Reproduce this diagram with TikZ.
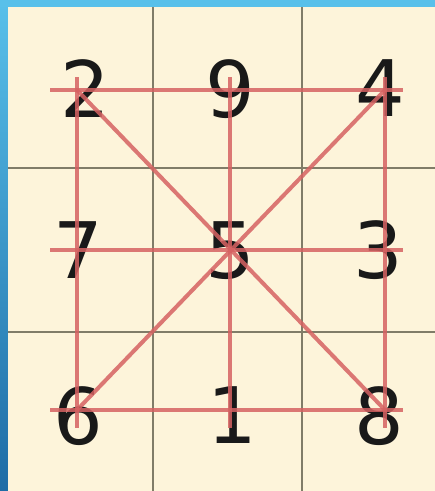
\documentclass[tikz,border=0pt]{standalone}
\usepackage{fontspec}
\newfontfamily\digitfont{DejaVu Sans}
\definecolor{paper}{RGB}{253,244,218}
\definecolor{gridgray}{RGB}{128,124,104}
\definecolor{linered}{RGB}{214,98,98}
\definecolor{skyblue}{RGB}{88,192,234}
\definecolor{deepblue}{RGB}{30,108,166}
\tikzset{
  digit/.style={inner sep=0pt,font=\digitfont\fontsize{78}{78}\selectfont,text=black!90},
  gridline/.style={gridgray,line width=1.6pt},
  redline/.style={linered,line width=4pt,opacity=0.85}
}
\begin{document}
\begin{tikzpicture}[x=1pt,y=-1pt,line cap=butt]
\def\W{435}\def\H{491}
\useasboundingbox (0,0) rectangle (\W,\H);
% frame and paper
\shade[top color=skyblue,bottom color=deepblue] (0,0) rectangle (8,\H);
\fill[skyblue] (0,0) rectangle (\W,7);
\fill[paper] (8,7) rectangle (\W,\H);
\foreach \x in {153,302} \draw[gridline] (\x,7)--(\x,\H);
\foreach \y in {168,332} \draw[gridline] (8,\y)--(\W,\y);
% the square
\foreach \d/\x/\y in {2/85/89,9/230/89,4/380/88,7/78/250,5/230/251,3/378/250,6/78/416,1/232/415,8/379/416}
  \node[digit] (n\d) at (\x,\y) {\d};
% corners of the red figure
\foreach \i/\x in {1/77,2/230,3/385}
  \foreach \j/\y in {1/90,2/250,3/410}
    \coordinate (p\i\j) at (\x,\y);
\foreach \j in {1,2,3}
  \draw[redline,shorten <=-27pt,shorten >=-18pt] (p1\j)--(p3\j);
\foreach \i in {1,2,3}
  \draw[redline,shorten <=-13pt,shorten >=-18pt] (p\i1)--(p\i3);
\draw[redline] (p11)--(p33);
\draw[redline] (p13)--(p31);
\end{tikzpicture}
\end{document}
